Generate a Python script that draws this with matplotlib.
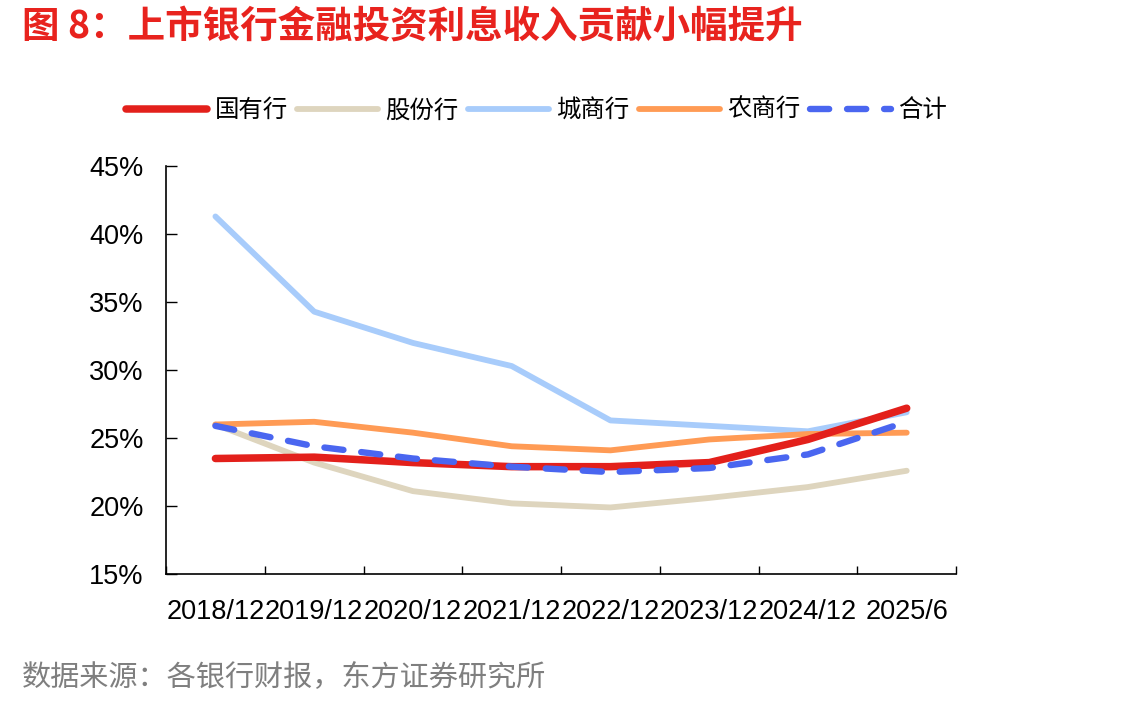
import matplotlib.pyplot as plt
from matplotlib.ticker import PercentFormatter

plt.rcParams['font.family'] = ['Liberation Sans', 'Noto Sans CJK SC', 'DejaVu Sans']

# === 数据 ===
periods = ["2018/12", "2019/12", "2020/12", "2021/12", "2022/12", "2023/12", "2024/12", "2025/6"]
guoyou = [23.5, 23.6, 23.2, 22.9, 22.9, 23.2, 24.9, 27.2]
gufen = [26.0, 23.2, 21.1, 20.2, 19.9, 20.6, 21.4, 22.6]
chengshang = [41.3, 34.3, 32.0, 30.3, 26.3, 25.9, 25.5, 26.9]
nongshang = [26.0, 26.2, 25.4, 24.4, 24.1, 24.9, 25.3, 25.4]
heji = [25.9, 24.4, 23.5, 22.9, 22.5, 22.8, 23.8, 26.2]

fig = plt.figure(figsize=(11.42, 7.07), dpi=100)
ax = fig.add_axes([0.1454, 0.188, 0.6918, 0.577])

x = range(len(periods))
kw = dict(solid_capstyle="round", dash_capstyle="round")
ax.plot(x, guoyou, color="#E3201B", lw=5.4, label="国有行", zorder=3, **kw)
ax.plot(x, gufen, color="#DED5BE", lw=4.2, label="股份行", zorder=2, **kw)
ax.plot(x, chengshang, color="#A8CCFB", lw=4.2, label="城商行", zorder=2, **kw)
ax.plot(x, nongshang, color="#FF9B55", lw=4.2, label="农商行", zorder=2, **kw)
ax.plot(x, heji, color="#4A66F0", lw=4.6, ls=(0, (3.0, 2.8)), label="合计", zorder=4, **kw)

ax.set_xlim(-0.5, 7.5)
ax.set_ylim(15, 45)
ax.set_yticks([15, 20, 25, 30, 35, 40, 45])
ax.yaxis.set_major_formatter(PercentFormatter(decimals=0))
ax.set_xticks(list(x))
ax.set_xticklabels(periods)
ax.set_xticks([i - 0.5 for i in range(len(periods) + 1)], minor=True)
ax.tick_params(axis="x", which="major", length=0, pad=18, labelsize=19.5)
ax.tick_params(axis="x", which="minor", direction="in", length=6, width=1)
ax.tick_params(axis="y", direction="in", length=8, width=1, pad=16, labelsize=19.5)

for s in ["top", "right"]:
    ax.spines[s].set_visible(False)
for s in ["left", "bottom"]:
    ax.spines[s].set_linewidth(1.2)

fig.legend(loc="center left", bbox_to_anchor=(0.1, 0.844), ncol=5, frameon=False,
           handlelength=3.3, handletextpad=0.3, columnspacing=0.4,
           borderpad=0, prop={"family": "Noto Sans CJK SC", "size": 17.6})

fig.text(0.019, 0.963, "图 8：上市银行金融投资利息收入贡献小幅提升", color="#E8231E",
         fontsize=27, fontweight="bold", family="Noto Sans CJK SC", va="center", ha="left")
fig.text(0.019, 0.041, "数据来源：各银行财报，东方证券研究所", color="#7F7F7F",
         fontsize=21, family="Noto Sans CJK SC", va="center", ha="left")

fig.savefig("out.png", dpi=100)
